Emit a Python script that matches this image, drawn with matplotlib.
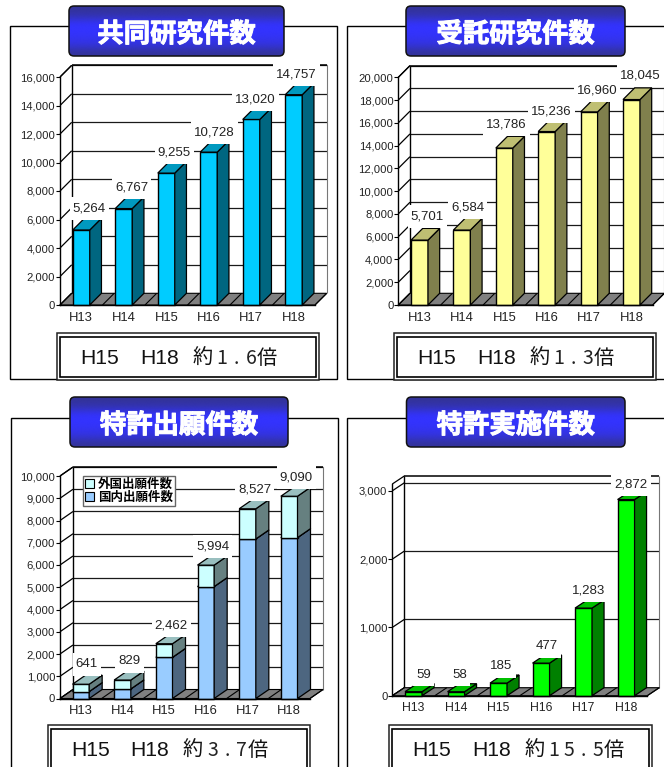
import numpy as np
from matplotlib import pyplot as plt
from matplotlib.patches import Polygon, Rectangle, FancyBboxPatch
from matplotlib.transforms import IdentityTransform
import matplotlib.patheffects as pe

plt.rcParams['font.family'] = ['Liberation Sans', 'Noto Sans CJK JP', 'DejaVu Sans']
W, H = 664, 767

years = ['H13', 'H14', 'H15', 'H16', 'H17', 'H18']

kyodo = [5264, 6767, 9255, 10728, 13020, 14757]
jutaku = [5701, 6584, 13786, 15236, 16960, 18045]
tokkyo_total = [641, 829, 2462, 5994, 8527, 9090]
tokkyo_naigai = [310, 430, 1850, 5030, 7170, 7230]
tokkyo_gaikoku = [t - d for t, d in zip(tokkyo_total, tokkyo_naigai)]
jisshi = [59, 58, 185, 477, 1283, 2872]

ticks1 = list(range(0, 16001, 2000))
ticks2 = list(range(0, 20001, 2000))
ticks3 = list(range(0, 10001, 1000))
ticks4 = list(range(0, 3001, 1000))

titles = ['共同研究件数', '受託研究件数', '特許出願件数', '特許実施件数']
ratios = ['1.6', '1.3', '3.7', '15.5']
legend_labels = ['外国出願件数', '国内出願件数']

fig = plt.figure(figsize=(W / 100, H / 100), dpi=100, facecolor='white')

# pixel overlay for frames, title plates and the ratio boxes
bg = fig.add_axes([0, 0, 1, 1], zorder=0)
bg.set_xlim(0, W)
bg.set_ylim(H, 0)
bg.axis('off')

top = fig.add_axes([0, 0, 1, 1], zorder=5)
top.set_xlim(0, W)
top.set_ylim(H, 0)
top.axis('off')
top.patch.set_alpha(0)

grad = np.array([[0.20, 0.20, 0.60], [0.20, 0.20, 0.72], [0.20, 0.20, 1.0], [0.20, 0.20, 1.0],
                 [0.20, 0.20, 0.95], [0.20, 0.20, 0.85], [0.20, 0.20, 0.60]])[:, None, :]


def plate(x0, y0, x1, y1, text):
    box = FancyBboxPatch((x0 + 5, y0 + 5), x1 - x0 - 10, y1 - y0 - 10,
                         boxstyle='round,pad=5', fc='none', ec='#111111', lw=1.1, zorder=4)
    top.add_patch(box)
    im = top.imshow(grad, extent=(x0, x1, y1, y0), aspect='auto', interpolation='bicubic', zorder=3)
    im.set_clip_path(box)
    top.set_xlim(0, W)
    top.set_ylim(H, 0)
    t = top.text((x0 + x1) / 2, (y0 + y1) / 2 + 3.5, text, color='white', fontsize=19, fontweight='bold',
                 family=['Noto Sans CJK JP'], ha='center', va='center', zorder=5)
    t.set_path_effects([pe.withStroke(linewidth=0.7, foreground='white')])


def ratio_box(x0, y0, x1, y1, ratio):
    bg.add_patch(Rectangle((x0, y0), x1 - x0, y1 - y0, fc='white', ec='#222222', lw=1.1, zorder=3))
    bg.add_patch(Rectangle((x0 + 3, y0 + 3.5), x1 - x0 - 6, y1 - y0 - 7, fc='white', ec='black', lw=1.2, zorder=3))
    yc = y0 + 25.5
    bg.text(x0 + 23.5, yc, 'H15', fontsize=15.2, ha='left', va='center', color='#111111', zorder=4)
    bg.text(x0 + 83, yc, 'H18', fontsize=15.2, ha='left', va='center', color='#111111', zorder=4)
    bg.text(x0 + 135.5, yc, '約', fontsize=14.5, family=['Noto Sans CJK JP'], ha='left', va='center', color='#111111', zorder=4)
    x = x0 + 158
    for c in ratio:
        bg.text(x + 7, yc, c, fontsize=14, family=['Noto Sans CJK JP'], ha='center', va='center', color='#222222', zorder=4)
        x += 14.5
    bg.text(x - 1.5, yc, '倍', fontsize=14.5, family=['Noto Sans CJK JP'], ha='left', va='center', color='#111111', zorder=4)


def shade(c, f):
    return tuple(np.array(plt.matplotlib.colors.to_rgb(c)) * f)


def chart(px0, px1, py0, ytop_px, ymax, ticks, stacks, colors, totals, nudges, rises,
          dx, dy, xfs=9.4):
    ax = fig.add_axes([px0 / W, 1 - py0 / H, (px1 - px0) / W, (py0 - ytop_px) / H], zorder=2)
    ax.set_xlim(-0.5, 5.5)
    ax.set_ylim(0, ymax)
    ax.patch.set_alpha(0)
    for s in ['top', 'right']:
        ax.spines[s].set_visible(False)
    for s in ['left', 'bottom']:
        ax.spines[s].set_linewidth(1.0)
        ax.spines[s].set_zorder(4)
    ddx = dx / ((px1 - px0) / 6)
    ddy = dy / ((py0 - ytop_px) / ymax)

    x = np.arange(6)
    ax.set_yticks(ticks)
    ax.set_yticklabels([f'{t:,}' for t in ticks], fontsize=8.1, color='#222222')
    ax.tick_params(axis='y', length=3, pad=0.5, width=0.8)
    ax.set_xticks(x)
    ax.set_xticklabels(years, fontsize=xfs, color='#222222')
    ax.tick_params(axis='x', length=0, pad=4.7)

    lkw = dict(clip_on=False, solid_capstyle='butt')
    # walls and gridlines
    for t in ticks:
        ax.plot([-0.5, -0.5 + ddx], [t, t + ddy], color='k', lw=0.9, zorder=1, **lkw)
        if t > 0:
            ax.plot([-0.5 + ddx, 5.5 + ddx], [t + ddy, t + ddy], color='#1a1a1a', lw=0.9, zorder=1, **lkw)
    ax.plot([-0.5, -0.5 + ddx], [ymax, ymax + ddy], color='k', lw=0.9, zorder=1, **lkw)
    ax.plot([-0.5 + ddx, 5.5 + ddx], [ymax + ddy, ymax + ddy], color='k', lw=1.1, zorder=1, **lkw)
    ax.plot([-0.5 + ddx, -0.5 + ddx], [ddy, ymax + ddy], color='k', lw=1.0, zorder=1, **lkw)
    ax.plot([5.5 + ddx, 5.5 + ddx], [ddy, ymax + ddy], color='#777777', lw=0.8, zorder=1, **lkw)

    # floor
    ax.add_patch(Polygon([(-0.5, 0), (5.5, 0), (5.5 + ddx, ddy), (-0.5 + ddx, ddy)], closed=True,
                         fc='#808080', ec='k', lw=0.8, zorder=1.5, clip_on=False))
    for b in np.arange(-0.5, 5.6, 1):
        ax.plot([b, b + ddx], [0, ddy], color='k', lw=0.8, zorder=1.6, **lkw)

    # boxes, left to right
    w = 0.4
    floor = np.zeros(6)
    for vals, col in zip(stacks, colors):
        vals = np.array(vals, dtype=float)
        ax.bar(x, vals, width=w, bottom=floor, color=col, edgecolor='k', linewidth=1.0, zorder=3, clip_on=False)
        tops = floor + vals
        for xi, b, t in zip(x, floor, tops):
            xl, xr = xi - w / 2, xi + w / 2
            ax.add_patch(Polygon([(xr, b), (xr + ddx, b + ddy), (xr + ddx, t + ddy), (xr, t)], closed=True,
                                 fc=shade(col, 0.5), ec='k', lw=0.9, zorder=3, clip_on=False))
            ax.add_patch(Polygon([(xl, t), (xr, t), (xr + ddx, t + ddy), (xl + ddx, t + ddy)], closed=True,
                                 fc=shade(col, 0.75), ec='k', lw=0.9, zorder=3, clip_on=False))
        floor = tops

    # value labels, white plate behind them hides what runs underneath
    rend = fig.canvas.get_renderer()
    for xi, t, n, r in zip(x, totals, nudges, rises):
        s = ax.annotate(f'{t:,}', (xi, t), xytext=(n, r), textcoords='offset pixels', fontsize=9.5,
                        color='#222222', ha='center', va='center', zorder=6, annotation_clip=False)
        e = s.get_window_extent(rend)
        cy = (e.y0 + e.y1) / 2
        ax.add_patch(Rectangle((e.x0 - 3, cy - 11.5), e.width + 6, 23, transform=IdentityTransform(),
                               fc='white', ec='none', zorder=5, clip_on=False))
    return ax


# frames
bg.add_patch(Rectangle((9.5, 25.5), 327, 353, fc='white', ec='black', lw=1.0))
bg.add_patch(Rectangle((346.5, 25.5), 340, 353, fc='white', ec='black', lw=1.0))
bg.add_patch(Rectangle((10.5, 417.5), 327, 370, fc='white', ec='black', lw=1.0))
bg.add_patch(Rectangle((346.5, 417.5), 340, 370, fc='white', ec='black', lw=1.0))

plate(69, 6, 284, 56, titles[0])
plate(406, 6, 625, 56, titles[1])
plate(70, 397, 288, 447, titles[2])
plate(406.5, 397, 625, 447, titles[3])

ratio_box(57, 333, 319, 380, ratios[0])
ratio_box(394, 333, 656, 380, ratios[1])
ratio_box(47.5, 725, 310, 772, ratios[2])
ratio_box(389, 725, 652, 772, ratios[3])

chart(60, 315, 305, 77, 16000, ticks1, [kyodo], ['#00CCFF'], kyodo,
      [8, 8, 8, 6, 4, 3], [21, 21, 21, 20, 20, 20], 11.7, 11.7)
chart(398.3, 652.7, 305, 77.3, 20000, ticks2, [jutaku], ['#FFFF99'], jutaku,
      [8, 6, 2, 5, 8, 9], [24, 23, 24, 20, 21, 24], 11.7, 11.7)
ax3 = chart(60, 310, 698.5, 476, 10000, ticks3, [tokkyo_naigai, tokkyo_gaikoku], ['#99CCFF', '#CCFFFF'],
            tokkyo_total, [6, 7, 7, 7, 7, 7], [20, 19, 18, 19, 19, 19], 13, 9)
chart(392.3, 647.3, 695.7, 484, 3100, ticks4, [jisshi], ['#00FF00'], jisshi,
      [10, 4, 3, 6, 5, 5], [17, 17, 17, 17, 18, 15], 12, 8, xfs=8.8)

leg_handles = [Rectangle((0, 0), 1, 1, fc='#CCFFFF', ec='k', lw=0.8), Rectangle((0, 0), 1, 1, fc='#99CCFF', ec='k', lw=0.8)]
leg = ax3.legend(leg_handles, legend_labels, loc='upper left', bbox_to_anchor=((83 - 60) / 250, 1.0),
                 prop={'family': ['Noto Sans CJK JP'], 'weight': 'bold', 'size': 9},
                 handlelength=0.75, handleheight=0.75, handletextpad=0.3, labelspacing=0.02,
                 borderpad=0.15, borderaxespad=0, frameon=True, fancybox=False, framealpha=1,
                 edgecolor='#666666')
leg.get_frame().set_linewidth(1.0)
leg.set_zorder(7)

fig.savefig('out.png', dpi=100)
